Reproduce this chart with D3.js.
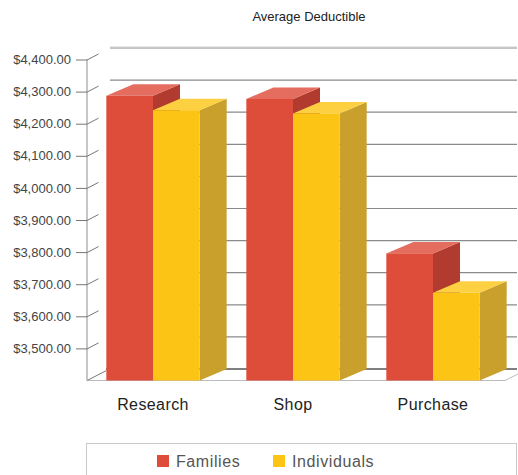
<!DOCTYPE html>
<html>
<head>
<meta charset="utf-8">
<script src="https://cdn.jsdelivr.net/npm/d3@7"></script>
<style>
  html, body { margin: 0; padding: 0; background: #fff; }
  svg { display: block; font-family: "Liberation Sans", Arial, Helvetica, sans-serif; }
</style>
</head>
<body>
<svg id="chart" width="518" height="475"></svg>
<script>
// Chart data
const categories = ["Research", "Shop", "Purchase"];
const seriesNames = ["Families", "Individuals"];
const families = [4287, 4277, 3796];
const individuals = [4242, 4232, 3673];
const tickValues = [3500, 3600, 3700, 3800, 3900, 4000, 4100, 4200, 4300, 4400];
const title = "Average Deductible";

const seriesValues = [families, individuals];
const palette = {
  Families:    { front: "#de4c3a", top: "#e46d5f", side: "#b03b2e" },
  Individuals: { front: "#fcc516", top: "#fdd042", side: "#c9a02c" }
};

const svg = d3.select("#chart");

// 3D depth offset of the back plane
const depthX = 27, depthY = -11.5;
const wallX = 110;          // where back-wall gridlines begin
const rightEdge = 517;

// Value scale on the front plane
const y = d3.scaleLinear().domain([3400, 4400]).range([380.5, 59.5]);
// Category bands and series sub-bands
const x0 = d3.scaleBand().domain(categories).range([83, 503]).paddingInner(1 / 3).paddingOuter(1 / 6);
const x1 = d3.scaleBand().domain(seriesNames).range([0, x0.bandwidth()]);

// Title
svg.append("text")
  .attr("x", 309).attr("y", 21)
  .attr("text-anchor", "middle")
  .attr("font-size", 13).attr("fill", "#222")
  .text(title);

// Back-wall gridlines
svg.append("g").selectAll("line")
  .data(tickValues)
  .join("line")
  .attr("x1", wallX).attr("x2", rightEdge)
  .attr("y1", d => y(d) + depthY).attr("y2", d => y(d) + depthY)
  .attr("stroke", "#8a8a8a").attr("stroke-width", 1.2);
// light highlight above the top gridline
svg.append("line")
  .attr("x1", wallX).attr("x2", rightEdge)
  .attr("y1", y(4400) + depthY - 1.3).attr("y2", y(4400) + depthY - 1.3)
  .attr("stroke", "#dcdcdc").attr("stroke-width", 0.8);

// Floor: back edge, front edge and right diagonal
svg.append("line")
  .attr("x1", wallX - 4).attr("x2", rightEdge)
  .attr("y1", y(3400) + depthY).attr("y2", y(3400) + depthY)
  .attr("stroke", "#555").attr("stroke-width", 1.3);
svg.append("line")
  .attr("x1", 87).attr("x2", 505)
  .attr("y1", y(3400)).attr("y2", y(3400))
  .attr("stroke", "#bbb").attr("stroke-width", 1);
svg.append("line")
  .attr("x1", 505).attr("x2", 518)
  .attr("y1", y(3400)).attr("y2", y(3400) - 6.5)
  .attr("stroke", "#bbb").attr("stroke-width", 1);
svg.append("line")
  .attr("x1", 87).attr("x2", 106)
  .attr("y1", y(3400)).attr("y2", y(3400) - 9.7)
  .attr("stroke", "#777").attr("stroke-width", 1);

// Y axis with tick labels
const yAxis = d3.axisLeft(y)
  .tickValues(tickValues)
  .tickSize(11).tickPadding(5)
  .tickFormat(d => "$" + d3.format(",.2f")(d));
const gAxis = svg.append("g").attr("transform", "translate(87,0)").call(yAxis);
gAxis.select(".domain").attr("stroke", "#b3b3b3").attr("stroke-width", 1.5)
  .attr("d", `M0,${y(4400)}V${y(3400)}`);
gAxis.selectAll(".tick line").attr("stroke", "#777");
gAxis.selectAll(".tick text").attr("fill", "#444").attr("font-size", 13)
  .attr("font-family", "'Liberation Sans', Arial, sans-serif");
// short depth ticks rising from the axis
gAxis.selectAll(".tick").append("line")
  .attr("x1", 0).attr("y1", 0).attr("x2", 11.5).attr("y2", -6)
  .attr("stroke", "#777");

// 3D bars
const bars = svg.append("g");
categories.forEach((cat, ci) => {
  seriesNames.forEach((s, si) => {
    const v = seriesValues[si][ci];
    const xl = x0(cat) + x1(s);
    const w = x1.bandwidth();
    const yt = y(v), yb = y(3400);
    const c = palette[s];
    const g = bars.append("g");
    // side face
    g.append("path")
      .attr("d", `M${xl + w},${yt}L${xl + w + depthX},${yt + depthY}L${xl + w + depthX},${yb + depthY}L${xl + w},${yb}Z`)
      .attr("fill", c.side);
    // top face
    g.append("path")
      .attr("d", `M${xl},${yt}L${xl + depthX},${yt + depthY}L${xl + w + depthX},${yt + depthY}L${xl + w},${yt}Z`)
      .attr("fill", c.top);
    // front face
    g.append("rect")
      .attr("x", xl).attr("y", yt)
      .attr("width", w).attr("height", yb - yt)
      .attr("fill", c.front);
  });
});

// Category labels
svg.append("g").selectAll("text")
  .data(categories)
  .join("text")
  .attr("x", d => x0(d) + x0.bandwidth() / 2)
  .attr("y", 410)
  .attr("text-anchor", "middle")
  .attr("font-size", 16).attr("letter-spacing", 0.4).attr("fill", "#222")
  .text(d => d);

// Legend
svg.append("rect")
  .attr("x", 86.5).attr("y", 443.5)
  .attr("width", 430).attr("height", 40)
  .attr("fill", "#fff").attr("stroke", "#c8c8c8").attr("stroke-width", 1);
const legendX = [157, 273];
const legend = svg.append("g").selectAll("g")
  .data(seriesNames)
  .join("g")
  .attr("transform", (d, i) => `translate(${legendX[i]},455)`);
legend.append("rect")
  .attr("width", 12).attr("height", 12)
  .attr("fill", d => palette[d].front);
legend.append("text")
  .attr("x", 19).attr("y", 12)
  .attr("font-size", 16).attr("letter-spacing", 0.6).attr("fill", "#555")
  .text(d => d);
</script>
</body>
</html>
